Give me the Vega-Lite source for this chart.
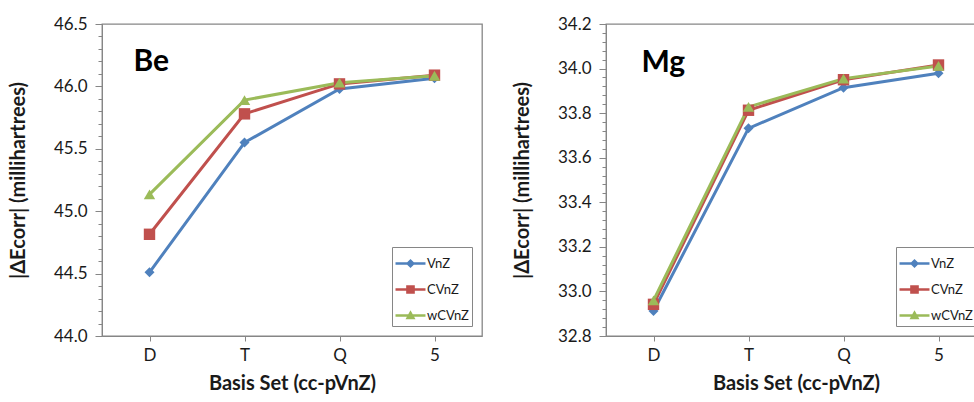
{
  "$schema": "https://vega.github.io/schema/vega-lite/v6.json",
  "padding": {"left": 7, "top": 14, "right": 0, "bottom": 0},
  "spacing": 28,
  "config": {
    "font": "Lato",
    "view": {"stroke": "#868686", "strokeWidth": 1.3},
    "axis": {"grid": false, "domainColor": "#868686", "tickColor": "#868686", "labelColor": "#1a1a1a", "titleColor": "#1a1a1a", "labelFontSize": 17, "titleFontSize": 20, "titleFontWeight": "bold"},
    "legend": {"labelFontSize": 13, "labelColor": "#1a1a1a"}
  },
  "resolve": {"scale": {"color": "independent", "shape": "independent", "stroke": "independent"}},
  "hconcat": [
    {
      "width": 380,
      "height": 312,
      "data": {"values": [
        {"basis": "D", "series": "VnZ", "value": 44.51},
        {"basis": "T", "series": "VnZ", "value": 45.55},
        {"basis": "Q", "series": "VnZ", "value": 45.98},
        {"basis": "5", "series": "VnZ", "value": 46.065},
        {"basis": "D", "series": "CVnZ", "value": 44.815},
        {"basis": "T", "series": "CVnZ", "value": 45.78},
        {"basis": "Q", "series": "CVnZ", "value": 46.02},
        {"basis": "5", "series": "CVnZ", "value": 46.09},
        {"basis": "D", "series": "wCVnZ", "value": 45.135},
        {"basis": "T", "series": "wCVnZ", "value": 45.89},
        {"basis": "Q", "series": "wCVnZ", "value": 46.03},
        {"basis": "5", "series": "wCVnZ", "value": 46.085}
      ]},
      "encoding": {
        "x": {"field": "basis", "type": "ordinal", "sort": ["D", "T", "Q", "5"], "scale": {"type": "point", "padding": 0.5},
          "axis": {"title": "Basis Set (cc-pVnZ)", "labelAngle": 0, "tickSize": 5, "labelPadding": 6, "titlePadding": 10}},
        "y": {"field": "value", "type": "quantitative", "scale": {"domain": [44, 46.5], "nice": false, "zero": false},
          "axis": {"title": "|ΔEcorr| (millihartrees)", "values": [44, 44.1, 44.2, 44.3, 44.4, 44.5, 44.6, 44.7, 44.8, 44.9, 45, 45.1, 45.2, 45.3, 45.4, 45.5, 45.6, 45.7, 45.8, 45.9, 46, 46.1, 46.2, 46.3, 46.4, 46.5],
            "labelExpr": "abs(datum.value*2 - round(datum.value*2)) < 0.001 ? format(datum.value, '.1f') : ''",
            "tickSize": {"condition": {"test": "abs(datum.value*2 - round(datum.value*2)) < 0.001", "value": 7}, "value": 4},
            "labelPadding": 8, "titlePadding": 25}}
      },
      "layer": [
        {"mark": {"type": "point", "filled": true, "opacity": 0},
          "encoding": {
            "color": {"field": "series", "type": "nominal", "scale": {"domain": ["VnZ", "CVnZ", "wCVnZ"], "range": ["#4F81BD", "#C0504D", "#9BBB59"]},
              "legend": {"title": null, "orient": "bottom-right", "offset": 10, "strokeColor": "#868686", "fillColor": "white", "padding": 3, "symbolSize": 729, "symbolOffset": 2, "labelOffset": 3, "rowPadding": 5, "symbolStrokeWidth": 0, "symbolFillColor": "#4F81BD", "labelExpr": "datum.label + '   '"}},
            "shape": {"field": "series", "type": "nominal", "scale": {"domain": ["VnZ", "CVnZ", "wCVnZ"], "range": ["M-1.11,-0.1H1.11V0.1H-1.11Z M0,-0.34L0.34,0L0,0.34L-0.34,0Z", "M-1.11,-0.1H1.11V0.1H-1.11Z M-0.32,-0.32H0.32V0.32H-0.32Z", "M-1.11,-0.1H1.11V0.1H-1.11Z M0,-0.38L0.37,0.28H-0.37Z"]},
              "legend": {"title": null, "orient": "bottom-right", "offset": 10, "strokeColor": "#868686", "fillColor": "white", "padding": 3, "symbolSize": 729, "symbolOffset": 2, "labelOffset": 3, "rowPadding": 5, "symbolStrokeWidth": 0, "symbolFillColor": "#4F81BD", "labelExpr": "datum.label + '   '"}}
          }},
        {"mark": {"type": "line", "strokeWidth": 3},
          "encoding": {"stroke": {"field": "series", "type": "nominal", "scale": {"domain": ["CVnZ", "VnZ", "wCVnZ"], "range": ["#C0504D", "#4F81BD", "#9BBB59"]}, "legend": null}}},
        {"transform": [{"filter": "datum.series == 'VnZ'"}],
          "mark": {"type": "point", "filled": true, "shape": "diamond", "size": 100, "opacity": 1},
          "encoding": {"color": {"field": "series", "type": "nominal", "scale": {"domain": ["VnZ", "CVnZ", "wCVnZ"], "range": ["#4F81BD", "#C0504D", "#9BBB59"]}, "legend": null}}},
        {"transform": [{"filter": "datum.series == 'CVnZ'"}],
          "mark": {"type": "point", "filled": true, "shape": "square", "size": 130, "opacity": 1},
          "encoding": {"color": {"field": "series", "type": "nominal", "scale": {"domain": ["VnZ", "CVnZ", "wCVnZ"], "range": ["#4F81BD", "#C0504D", "#9BBB59"]}, "legend": null}}},
        {"transform": [{"filter": "datum.series == 'wCVnZ'"}],
          "mark": {"type": "point", "filled": true, "shape": "triangle-up", "size": 130, "opacity": 1},
          "encoding": {"color": {"field": "series", "type": "nominal", "scale": {"domain": ["VnZ", "CVnZ", "wCVnZ"], "range": ["#4F81BD", "#C0504D", "#9BBB59"]}, "legend": null}}},
        {"transform": [{"filter": "datum.series == 'VnZ' && datum.basis == 'D'"}],
          "mark": {"type": "text", "fontSize": 30, "fontWeight": "bold", "align": "left", "baseline": "alphabetic", "dx": -16, "color": "black"},
          "encoding": {"x": {"datum": "D"}, "y": {"datum": 46.12}, "text": {"value": "Be"}}}
      ]
    },
    {
      "width": 380,
      "height": 312,
      "data": {"values": [
        {"basis": "D", "series": "VnZ", "value": 32.912},
        {"basis": "T", "series": "VnZ", "value": 33.732},
        {"basis": "Q", "series": "VnZ", "value": 33.914},
        {"basis": "5", "series": "VnZ", "value": 33.979},
        {"basis": "D", "series": "CVnZ", "value": 32.942},
        {"basis": "T", "series": "CVnZ", "value": 33.813},
        {"basis": "Q", "series": "CVnZ", "value": 33.95},
        {"basis": "5", "series": "CVnZ", "value": 34.016},
        {"basis": "D", "series": "wCVnZ", "value": 32.96},
        {"basis": "T", "series": "wCVnZ", "value": 33.828},
        {"basis": "Q", "series": "wCVnZ", "value": 33.955},
        {"basis": "5", "series": "wCVnZ", "value": 34.012}
      ]},
      "encoding": {
        "x": {"field": "basis", "type": "ordinal", "sort": ["D", "T", "Q", "5"], "scale": {"type": "point", "padding": 0.5},
          "axis": {"title": "Basis Set (cc-pVnZ)", "labelAngle": 0, "tickSize": 5, "labelPadding": 6, "titlePadding": 10}},
        "y": {"field": "value", "type": "quantitative", "scale": {"domain": [32.8, 34.2], "nice": false, "zero": false},
          "axis": {"title": "|ΔEcorr| (millihartrees)", "values": [32.8, 32.84, 32.88, 32.92, 32.96, 33, 33.04, 33.08, 33.12, 33.16, 33.2, 33.24, 33.28, 33.32, 33.36, 33.4, 33.44, 33.48, 33.52, 33.56, 33.6, 33.64, 33.68, 33.72, 33.76, 33.8, 33.84, 33.88, 33.92, 33.96, 34, 34.04, 34.08, 34.12, 34.16, 34.2],
            "labelExpr": "abs(datum.value*5 - round(datum.value*5)) < 0.001 ? format(datum.value, '.1f') : ''",
            "tickSize": {"condition": {"test": "abs(datum.value*5 - round(datum.value*5)) < 0.001", "value": 7}, "value": 4},
            "labelPadding": 8, "titlePadding": 25}}
      },
      "layer": [
        {"mark": {"type": "point", "filled": true, "opacity": 0},
          "encoding": {
            "color": {"field": "series", "type": "nominal", "scale": {"domain": ["VnZ", "CVnZ", "wCVnZ"], "range": ["#4F81BD", "#C0504D", "#9BBB59"]},
              "legend": {"title": null, "orient": "bottom-right", "offset": 10, "strokeColor": "#868686", "fillColor": "white", "padding": 3, "symbolSize": 729, "symbolOffset": 2, "labelOffset": 3, "rowPadding": 5, "symbolStrokeWidth": 0, "symbolFillColor": "#4F81BD", "labelExpr": "datum.label + '   '"}},
            "shape": {"field": "series", "type": "nominal", "scale": {"domain": ["VnZ", "CVnZ", "wCVnZ"], "range": ["M-1.11,-0.1H1.11V0.1H-1.11Z M0,-0.34L0.34,0L0,0.34L-0.34,0Z", "M-1.11,-0.1H1.11V0.1H-1.11Z M-0.32,-0.32H0.32V0.32H-0.32Z", "M-1.11,-0.1H1.11V0.1H-1.11Z M0,-0.38L0.37,0.28H-0.37Z"]},
              "legend": {"title": null, "orient": "bottom-right", "offset": 10, "strokeColor": "#868686", "fillColor": "white", "padding": 3, "symbolSize": 729, "symbolOffset": 2, "labelOffset": 3, "rowPadding": 5, "symbolStrokeWidth": 0, "symbolFillColor": "#4F81BD", "labelExpr": "datum.label + '   '"}}
          }},
        {"mark": {"type": "line", "strokeWidth": 3},
          "encoding": {"stroke": {"field": "series", "type": "nominal", "scale": {"domain": ["CVnZ", "VnZ", "wCVnZ"], "range": ["#C0504D", "#4F81BD", "#9BBB59"]}, "legend": null}}},
        {"transform": [{"filter": "datum.series == 'VnZ'"}],
          "mark": {"type": "point", "filled": true, "shape": "diamond", "size": 100, "opacity": 1},
          "encoding": {"color": {"field": "series", "type": "nominal", "scale": {"domain": ["VnZ", "CVnZ", "wCVnZ"], "range": ["#4F81BD", "#C0504D", "#9BBB59"]}, "legend": null}}},
        {"transform": [{"filter": "datum.series == 'CVnZ'"}],
          "mark": {"type": "point", "filled": true, "shape": "square", "size": 130, "opacity": 1},
          "encoding": {"color": {"field": "series", "type": "nominal", "scale": {"domain": ["VnZ", "CVnZ", "wCVnZ"], "range": ["#4F81BD", "#C0504D", "#9BBB59"]}, "legend": null}}},
        {"transform": [{"filter": "datum.series == 'wCVnZ'"}],
          "mark": {"type": "point", "filled": true, "shape": "triangle-up", "size": 130, "opacity": 1},
          "encoding": {"color": {"field": "series", "type": "nominal", "scale": {"domain": ["VnZ", "CVnZ", "wCVnZ"], "range": ["#4F81BD", "#C0504D", "#9BBB59"]}, "legend": null}}},
        {"transform": [{"filter": "datum.series == 'VnZ' && datum.basis == 'D'"}],
          "mark": {"type": "text", "fontSize": 30, "fontWeight": "bold", "align": "left", "baseline": "alphabetic", "dx": -12, "color": "black"},
          "encoding": {"x": {"datum": "D"}, "y": {"datum": 33.985}, "text": {"value": "Mg"}}}
      ]
    }
  ]
}
